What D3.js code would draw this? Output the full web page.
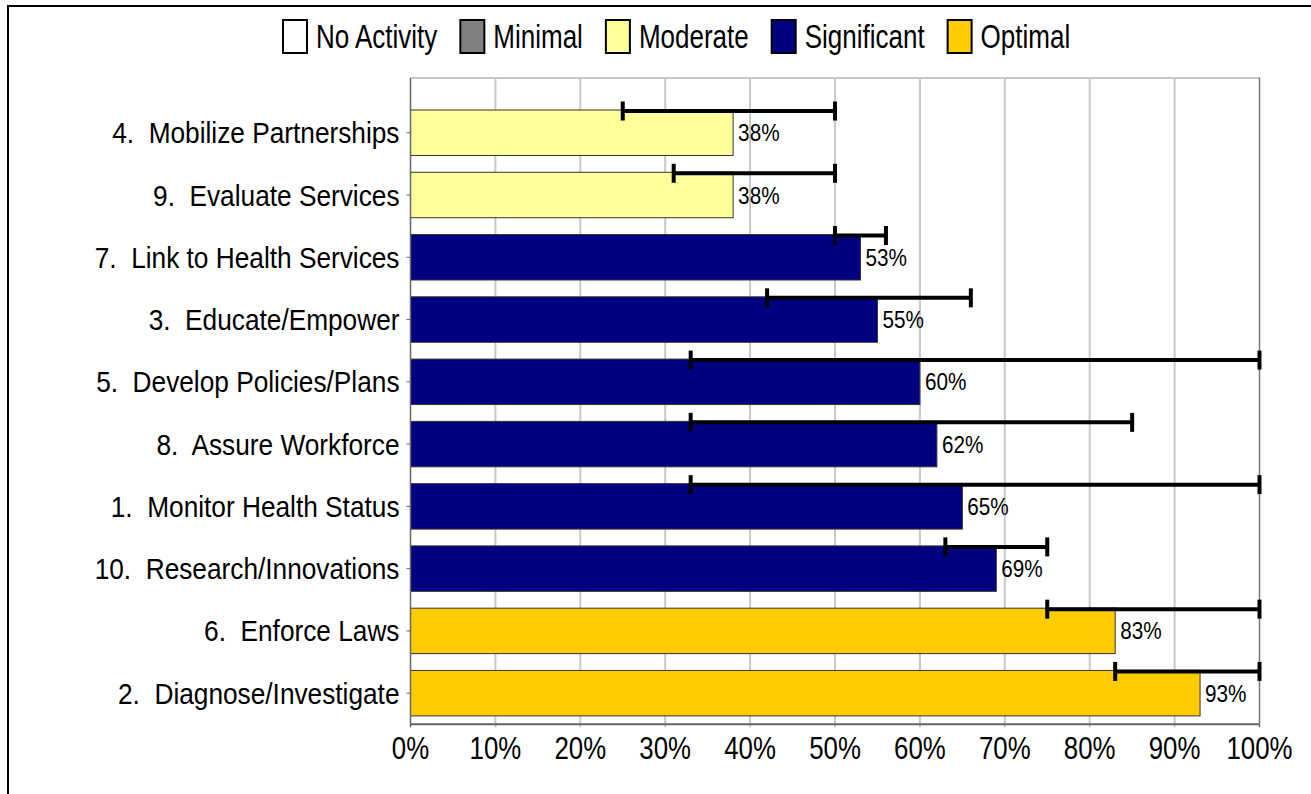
<!DOCTYPE html>
<html>
<head>
<meta charset="utf-8">
<script src="https://cdn.jsdelivr.net/npm/d3@7"></script>
<style>
  html, body { margin: 0; padding: 0; background: #fff; }
  svg { display: block; font-family: "Liberation Sans", Arial, sans-serif; }
  text { white-space: pre; fill: #000; }
</style>
</head>
<body>
<div id="chart"></div>
<script>
// chart values
const categories = [
  "4.  Mobilize Partnerships",
  "9.  Evaluate Services",
  "7.  Link to Health Services",
  "3.  Educate/Empower",
  "5.  Develop Policies/Plans",
  "8.  Assure Workforce",
  "1.  Monitor Health Status",
  "10.  Research/Innovations",
  "6.  Enforce Laws",
  "2.  Diagnose/Investigate"
];
const scores = [38, 38, 53, 55, 60, 62, 65, 69, 83, 93];
const rangeLow = [25, 31, 50, 42, 33, 33, 33, 63, 75, 83];
const rangeHigh = [50, 50, 56, 66, 100, 85, 100, 75, 100, 100];
const levels = ["Moderate", "Moderate", "Significant", "Significant", "Significant",
  "Significant", "Significant", "Significant", "Optimal", "Optimal"];
const legendLevels = ["No Activity", "Minimal", "Moderate", "Significant", "Optimal"];
const legendColors = ["#ffffff", "#808080", "#ffff99", "#000080", "#ffcc00"];
const xTicks = [0, 10, 20, 30, 40, 50, 60, 70, 80, 90, 100];

const width = 1311;
const height = 794;

const rows = categories.map((c, i) => ({
  name: c,
  score: scores[i],
  low: rangeLow[i],
  high: rangeHigh[i],
  level: levels[i]
}));

const plot = { left: 410.5, right: 1259.5, top: 78, bottom: 724.3 };

const svg = d3.select('#chart')
  .append('svg')
  .attr('width', width)
  .attr('height', height);

// outer frame (only top and left edges show inside the picture)
svg.append('rect')
  .attr('x', 8).attr('y', 6)
  .attr('width', width + 20).attr('height', height + 20)
  .attr('fill', '#fff')
  .attr('stroke', '#000')
  .attr('stroke-width', 2);

const xScale = d3.scaleLinear().domain([0, 100]).range([plot.left, plot.right]);
const color = d3.scaleOrdinal().domain(legendLevels).range(legendColors);
const yScale = d3.scaleBand()
  .domain(categories)
  .range([plot.top + 23.6, plot.bottom])
  .paddingInner(0.27)
  .paddingOuter(0.135);

// plot frame
svg.append('rect')
  .attr('x', plot.left).attr('y', plot.top)
  .attr('width', plot.right - plot.left)
  .attr('height', plot.bottom - plot.top)
  .attr('fill', '#fff')
  .attr('stroke', '#909090')
  .attr('stroke-width', 1);

// gridlines, extended below the axis as ticks
svg.append('g')
  .selectAll('line')
  .data(xTicks.slice(1, -1))
  .join('line')
  .attr('x1', d => xScale(d)).attr('x2', d => xScale(d))
  .attr('y1', plot.top).attr('y2', plot.bottom + 3)
  .attr('stroke', '#c8c8c8')
  .attr('stroke-width', 2);

// bars
svg.append('g')
  .selectAll('rect')
  .data(rows)
  .join('rect')
  .attr('x', xScale(0))
  .attr('y', d => yScale(d.name))
  .attr('width', d => xScale(d.score) - xScale(0))
  .attr('height', yScale.bandwidth())
  .attr('fill', d => color(d.level))
  .attr('stroke', '#333')
  .attr('stroke-width', 1);

// axes lines
const axisG = svg.append('g');
axisG.append('line')
  .attr('x1', plot.left).attr('x2', plot.right)
  .attr('y1', plot.bottom).attr('y2', plot.bottom)
  .attr('stroke', '#666').attr('stroke-width', 2);
axisG.append('line')
  .attr('x1', plot.left).attr('x2', plot.left)
  .attr('y1', plot.top).attr('y2', plot.bottom)
  .attr('stroke', '#666').attr('stroke-width', 1.5);
axisG.append('line')
  .attr('x1', plot.right).attr('x2', plot.right)
  .attr('y1', plot.top).attr('y2', plot.bottom + 3)
  .attr('stroke', '#777').attr('stroke-width', 1.5);
axisG.append('line')
  .attr('x1', plot.left).attr('x2', plot.left)
  .attr('y1', plot.bottom).attr('y2', plot.bottom + 3)
  .attr('stroke', '#666').attr('stroke-width', 1.5);
axisG.selectAll('.ytick')
  .data(categories)
  .join('line')
  .attr('class', 'ytick')
  .attr('x1', plot.left - 4).attr('x2', plot.left)
  .attr('y1', d => yScale(d) + yScale.bandwidth() / 2)
  .attr('y2', d => yScale(d) + yScale.bandwidth() / 2)
  .attr('stroke', '#666').attr('stroke-width', 1);

// range (error) bars
const errG = svg.append('g');
rows.forEach(d => {
  const yc = yScale(d.name) + 1;
  errG.append('line')
    .attr('x1', xScale(d.low)).attr('x2', xScale(d.high))
    .attr('y1', yc).attr('y2', yc)
    .attr('stroke', '#000').attr('stroke-width', 4);
  [d.low, d.high].forEach(v => {
    errG.append('line')
      .attr('x1', xScale(v)).attr('x2', xScale(v))
      .attr('y1', yc - 9.5).attr('y2', yc + 9.5)
      .attr('stroke', '#000').attr('stroke-width', 4);
  });
});

// value labels
svg.append('g')
  .selectAll('text')
  .data(rows)
  .join('text')
  .attr('transform', d => `translate(${xScale(d.score) + 5},${yScale(d.name) + yScale.bandwidth() / 2 + 8.5}) scale(0.9,1)`)
  .attr('font-size', 23)
  .text(d => d.score + '%');

// category labels
svg.append('g')
  .selectAll('text')
  .data(categories)
  .join('text')
  .attr('transform', d => `translate(${plot.left - 11},${yScale(d) + yScale.bandwidth() / 2 + 10.5}) scale(0.89,1)`)
  .attr('text-anchor', 'end')
  .attr('font-size', 29.5)
  .text(d => d);

// x tick labels
svg.append('g')
  .selectAll('text')
  .data(xTicks)
  .join('text')
  .attr('transform', d => `translate(${xScale(d)},${plot.bottom + 35}) scale(0.82,1)`)
  .attr('text-anchor', 'middle')
  .attr('font-size', 31.5)
  .text(d => d + '%');

// legend
const legend = svg.append('g');
let lx = 283;
legendLevels.forEach((name, i) => {
  legend.append('rect')
    .attr('x', lx).attr('y', 20)
    .attr('width', 24).attr('height', 33)
    .attr('fill', legendColors[i])
    .attr('stroke', '#000')
    .attr('stroke-width', 2);
  const t = legend.append('text')
    .attr('transform', `translate(${lx + 33},48) scale(0.8,1)`)
    .attr('font-size', 32.5)
    .text(name);
  const w = t.node().getComputedTextLength() * 0.8;
  lx += 33 + w + 23;
});
</script>
</body>
</html>
